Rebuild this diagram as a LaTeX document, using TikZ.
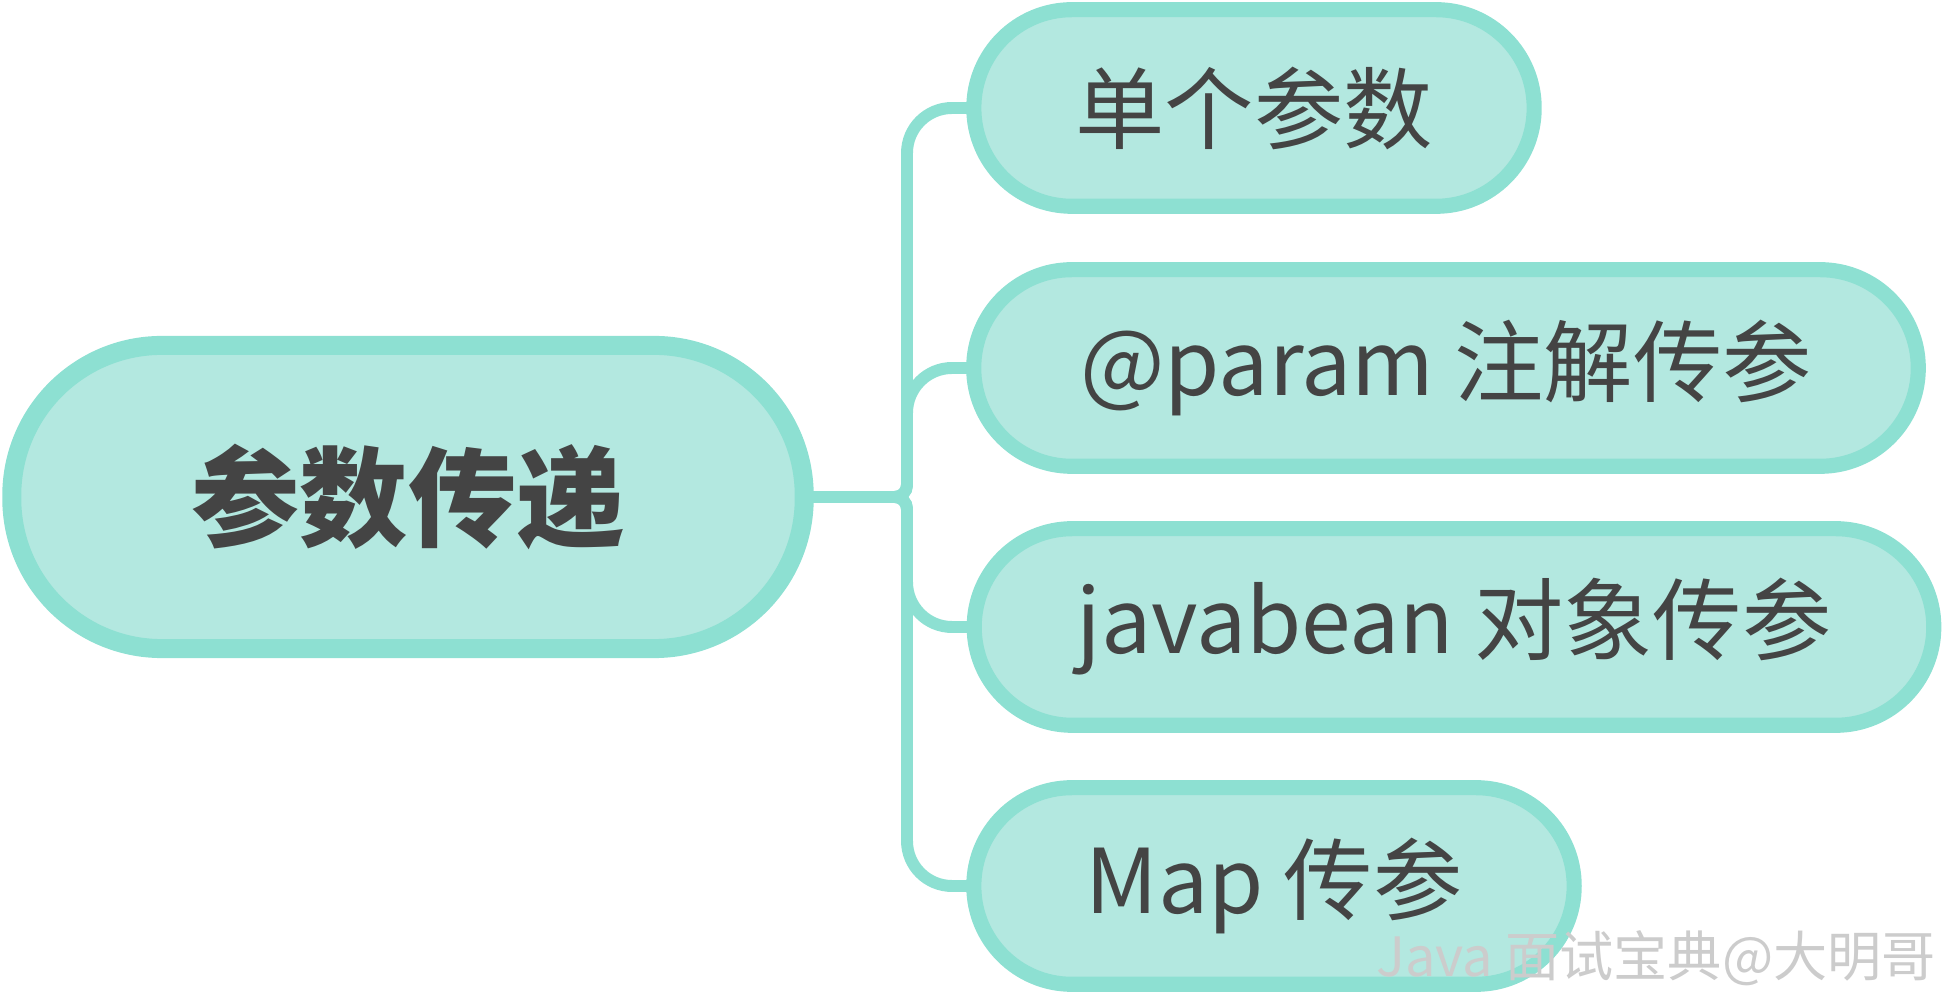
\documentclass[tikz,border=0pt]{standalone}
\usepackage{fontspec}
\setmainfont{Noto Sans CJK SC}

\definecolor{mintfill}{RGB}{179,232,224}
\definecolor{mintline}{RGB}{141,224,210}
\definecolor{inkgray}{RGB}{68,68,68}

\tikzset{
  rootbox/.style={draw=mintline, fill=mintfill, line width=5.4pt, rounded corners=1.5cm,
    minimum width=7.92cm, minimum height=3.03cm, text=inkgray,
    font=\fontsize{30.8}{36}\selectfont\bfseries},
  leafbox/.style={draw=mintline, fill=mintfill, line width=4.3pt, rounded corners=0.98cm,
    minimum height=1.965cm, text=inkgray, font=\fontsize{25.4}{30}\selectfont},
  branch/.style={draw=mintline, line width=3.4pt},
}

\begin{document}
\begin{tikzpicture}[x=0.01cm, y=-0.01cm, every node/.style={inner sep=0pt, outer sep=0pt}]
  \useasboundingbox (0,0) rectangle (1942,995);

  % 中心主题
  \node[rootbox] (root) at (408,497) {参数传递};

  % 分支
  \node[leafbox, minimum width=5.60cm] (single) at (1254,108) {单个参数};
  \node[leafbox, minimum width=9.44cm] (param)  at (1446,368) {@param 注解传参};
  \node[leafbox, minimum width=9.59cm] (bean)   at (1454,627) {javabean 对象传参};
  \node[leafbox, minimum width=6.00cm] (map)    at (1274,886) {Map 传参};

  % 连线
  \coordinate (fork) at (907,497);
  \foreach \leaf in {single, param, bean, map}
    \draw[branch] (root.east) [rounded corners=0.12cm] -- (fork)
      [rounded corners=0.45cm] -- (fork |- \leaf.west) -- (\leaf.west);

  % 水印
  \node[text=black!20, font=\fontsize{15.4}{18}\selectfont] (mark) at (1656,958) {Java 面试宝典@大明哥};
\end{tikzpicture}
\end{document}
